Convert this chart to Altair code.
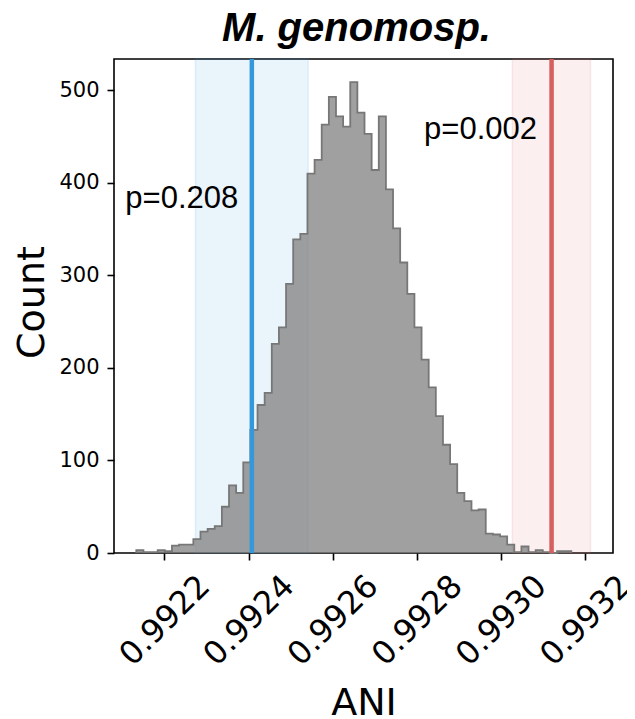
import altair as alt
import pandas as pd

# ---- data ----
counts = [3, 1, 1, 3, 2, 8, 9, 9, 15, 23, 26, 29, 50, 73, 65, 98, 133, 160, 173, 226,
          244, 291, 339, 345, 410, 425, 463, 493, 472, 461, 509, 476, 453, 414, 472, 393,
          351, 314, 280, 244, 209, 179, 148, 117, 96, 65, 56, 46, 47, 21, 20, 18, 9, 1,
          7, 1, 3, 1, 0, 2, 2]
bin_start = 0.992133
bin_width = 1.695e-5

obs_values = [0.9924076, 0.99312]          # observed ANI (blue, red)
band_lo = [0.9922736, 0.9930268]
band_hi = [0.9925416, 0.9932126]
marker_colors = ["#3498db", "#d65f5f"]

p_labels = ["p=0.208", "p=0.002"]
p_x = [0.992107, 0.992817]
p_y = [373, 447]

x_ticks = [0.9922, 0.9924, 0.9926, 0.9928, 0.9930, 0.9932]
y_ticks = [0, 100, 200, 300, 400, 500]
x_domain = [0.99208, 0.993266]
y_domain = [0, 534]

# ---- tables ----
edges = [bin_start + i * bin_width for i in range(len(counts) + 1)]
area_df = pd.DataFrame({"x": edges, "y": counts + [counts[-1]]})
step_x = [edges[0]] + edges + [edges[-1]]
step_y = [0] + counts + [counts[-1], 0]
step_df = pd.DataFrame({"x": step_x, "y": step_y, "o": list(range(len(step_x)))})
band_df = pd.DataFrame({"lo": band_lo, "hi": band_hi, "c": marker_colors})
line_df = pd.DataFrame({"x": obs_values, "c": marker_colors})
text_df = pd.DataFrame({"x": p_x, "y": p_y, "t": p_labels})


def xenc(field):
    return alt.X(f"{field}:Q",
                 scale=alt.Scale(domain=x_domain, nice=False, zero=False),
                 axis=alt.Axis(values=x_ticks, format=".4f", labelAngle=-45,
                               labelAlign="center", labelBaseline="middle",
                               labelPadding=60, labelFontSize=32, labelOverlap=False,
                               labelFlush=False, tickSize=7, grid=False, domain=False,
                               title="ANI", titleFontSize=38, titleY=161,
                               titleBaseline="alphabetic"))


def yenc(field):
    return alt.Y(f"{field}:Q",
                 scale=alt.Scale(domain=y_domain, nice=False, zero=True),
                 axis=alt.Axis(values=y_ticks, format="d", labelFontSize=21,
                               labelPadding=8, tickSize=7, grid=False, domain=False,
                               title="Count", titleFontSize=38, titleX=-71, titleY=243,
                               titleBaseline="alphabetic"))


bands = alt.Chart(band_df).mark_rect(fillOpacity=0.1, strokeOpacity=0.12, strokeWidth=1.5).encode(
    x=xenc("lo"), x2="hi",
    y=alt.value(0), y2=alt.value(494),
    fill=alt.Color("c:N", scale=None), stroke=alt.Color("c:N", scale=None))

hist_fill = alt.Chart(area_df).mark_area(interpolate="step-after", color="#808080", opacity=0.75).encode(
    x=xenc("x"), y=yenc("y"))

hist_edge = alt.Chart(step_df).mark_line(interpolate="step-after", color="#777777", strokeWidth=1.8).encode(
    x=xenc("x"), y=yenc("y"), order="o:Q")

vlines = alt.Chart(line_df).mark_rule(strokeWidth=4.5).encode(
    x=xenc("x"), y=alt.value(0), y2=alt.value(494),
    color=alt.Color("c:N", scale=None))

texts = alt.Chart(text_df).mark_text(align="left", baseline="alphabetic", font="Liberation Sans",
                                      fontSize=31, color="black").encode(
    x=xenc("x"), y=yenc("y"), text="t:N")

chart = alt.layer(bands, hist_fill, hist_edge, vlines, texts).properties(
    width=499, height=494,
    padding={"left": 106, "top": 51, "right": 14, "bottom": 165},
    autosize=alt.AutoSizeParams(type="none"),
    title=alt.TitleParams("M. genomosp.", font="Liberation Sans", fontSize=40, fontStyle="italic",
                          fontWeight="bold", anchor="middle", baseline="alphabetic", offset=14,
                          dy=38, dx=-7, frame="group", color="black"),
).configure_view(stroke="black", strokeWidth=1.6).configure_axis(
    labelFont="DejaVu Sans", titleFont="DejaVu Sans", labelColor="black", titleColor="black",
    tickColor="black", tickWidth=1.6, titleFontWeight="normal")

chart.save("out.html", embed_options={"renderer": "svg", "actions": False})
